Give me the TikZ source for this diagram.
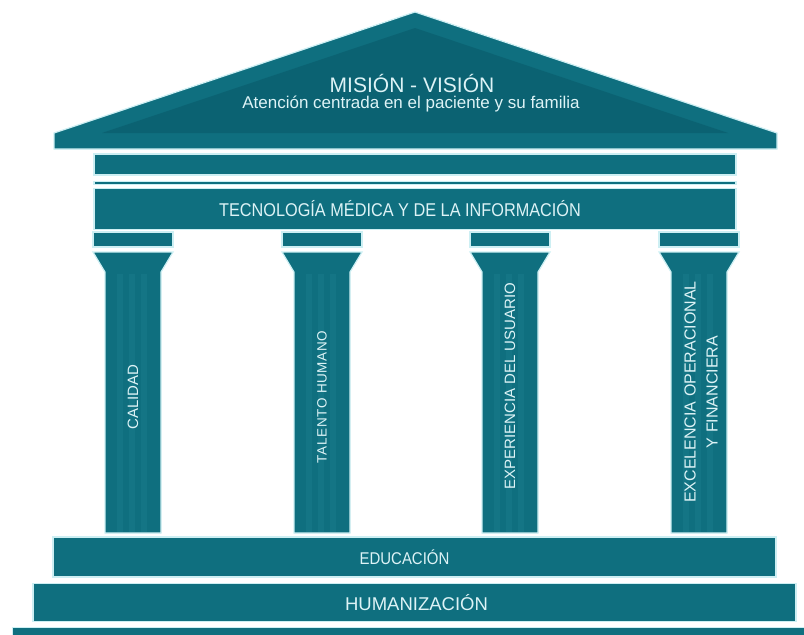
\documentclass[tikz,border=0pt]{standalone}
\usepackage{fontspec}
\setmainfont{Liberation Sans}
\newfontfamily\narrowfont[FakeStretch=0.88]{Liberation Sans}
\newfontfamily\widefont[LetterSpace=5]{Liberation Sans}
\usepackage{tikz}
\usetikzlibrary{positioning}
\definecolor{tealmain}{HTML}{0F6F7F}
\definecolor{tealdark}{HTML}{0B6272}
\definecolor{flute}{HTML}{147585}
\definecolor{halo}{HTML}{CDEFF3}
\definecolor{labelcol}{HTML}{DDF3F6}

\begin{document}
\begin{tikzpicture}[x=1pt, y=-1pt,
    part/.style = {draw=halo, line width=1.2pt, fill=tealmain},
    band/.style = {part, inner sep=0pt},
    tag/.style = {text=labelcol, inner sep=0pt},
    vlabel/.style = {tag, rotate=90, align=center,
                     font=\fontsize{15}{22}\selectfont}]
  \clip (0,0) rectangle (804,635);

  % roof
  \draw[part] (54,149) -- (54,133) -- (415,12) -- (777,133) -- (777,149) -- cycle;
  \fill[tealdark] (415,28) -- (728,133) -- (102,133) -- cycle;
  \node (mision) [tag, anchor=base, font=\fontsize{21}{25}\selectfont] at (412,92) {MISIÓN - VISIÓN};
  \node (atencion) [tag, anchor=base, font=\fontsize{17}{20}\selectfont] at (411,108) {Atención centrada en el paciente y su familia};

  % entablature
  \node (friso) [band, minimum width=642pt, minimum height=21pt] at (415,164.5) {};
  \node (linea) [band, minimum width=642pt, minimum height=3pt, below=5pt of friso] {};
  \node (tecno) [band, minimum width=642pt, minimum height=41pt, below=3pt of linea] {};
  \node (tecnotxt) [tag, font=\narrowfont\fontsize{18.5}{22}\selectfont] at ([xshift=-15pt]tecno.center) {TECNOLOGÍA MÉDICA Y DE LA INFORMACIÓN};

  % columns
  \foreach \c in {133, 322, 510, 699} {
    \draw[part] (\c-40,232) rectangle (\c+40,247);
    \draw[part] (\c-40,252) -- (\c+40,252) -- (\c+28,272) -- (\c+28,533)
      -- (\c-28,533) -- (\c-28,272) -- cycle;
    \foreach \f in {-16, -4, 8}
      \fill[flute] (\c+\f,274) rectangle (\c+\f+6,532);
  }
  \node (calidad) [vlabel] at (133,397) {CALIDAD};
  \node (talento) [vlabel, font=\widefont\fontsize{13.5}{16}\selectfont] at (322,397) {TALENTO HUMANO};
  \node (experiencia) [vlabel] at (510,386) {EXPERIENCIA DEL USUARIO};
  \node (excelencia) [vlabel, font=\fontsize{16}{22}\selectfont] at (701,392) {EXCELENCIA OPERACIONAL\\Y FINANCIERA};

  % steps
  \node (educacion) [band, minimum width=723pt, minimum height=40pt] at (414.5,557) {};
  \node (humanizacion) [band, minimum width=763pt, minimum height=38pt, below=5pt of educacion] {};
  \node (base) [band, minimum width=804pt, minimum height=20pt, below=5pt of humanizacion] {};
  \node (edutxt) [tag, font=\narrowfont\fontsize{17}{20}\selectfont] at ([xshift=-10pt]educacion.center) {EDUCACIÓN};
  \node (humtxt) [tag, font=\fontsize{18.5}{21}\selectfont] at ([xshift=2pt]humanizacion.center) {HUMANIZACIÓN};
\end{tikzpicture}
\end{document}
